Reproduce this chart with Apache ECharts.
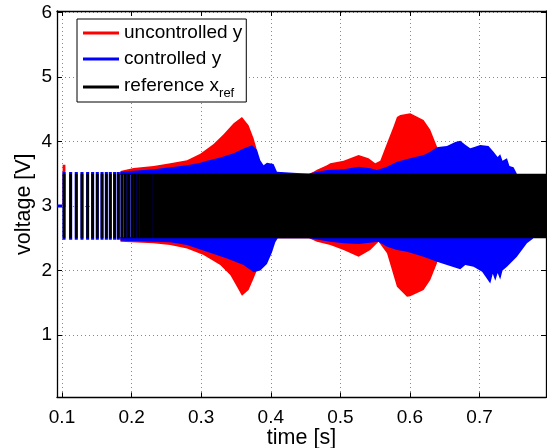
<!DOCTYPE html>
<html><head><meta charset="utf-8">
<script src="https://cdn.jsdelivr.net/npm/echarts@6/dist/echarts.min.js"></script>
<style>html,body{margin:0;padding:0;background:#fff}#c{width:547px;height:448px}</style>
</head><body><div id="c"></div>
<script>
// ---- axis ticks ----
const xTicks = [0.1, 0.2, 0.3, 0.4, 0.5, 0.6, 0.7];
const yTicks = [1, 2, 3, 4, 5, 6];
const X_MIN = 0.0928, X_MAX = 0.7955, Y_MIN = 0.035, Y_MAX = 6.02;

// ---- legend names ----
const seriesNames = ['uncontrolled y', 'controlled y', 'reference x_ref'];

// ---- signal before the reference starts ----
const preT = [0.0928, 0.1];
const preV = [3, 3];
const redSpikeT = [0.1029];
const redSpikeLo = 3.0, redSpikeHi = 3.64;

// ---- reference chirp: visible individual cycles (times of bars) ----
const chirpT = [0.1029, 0.1124, 0.1205, 0.1287, 0.1368, 0.1440, 0.1507, 0.1575, 0.1637, 0.1694,
  0.1756, 0.1809, 0.1862, 0.1910, 0.1957, 0.2006, 0.2049, 0.2092, 0.2135, 0.2172, 0.2211, 0.2249, 0.2286];
const refHi = 3.5, refLo = 2.5;
const blueTipHi = 3.525, blueTipLo = 2.475;

// ---- reference dense band ----
const refBandT = [0.226, 0.80];
const refBandHi = [3.5, 3.5];

// ---- uncontrolled y (red) envelope ----
const redUpT = [0.184, 0.2029, 0.2316, 0.2556, 0.2796, 0.2987, 0.3178, 0.3322, 0.3466, 0.3586, 0.3681, 0.3753, 0.3792, 0.385,
  0.455, 0.4615, 0.4664, 0.4807, 0.4855, 0.5046, 0.5262, 0.5286, 0.5405, 0.5501, 0.5573, 0.5670, 0.5764, 0.5813, 0.5861,
  0.6004, 0.6196, 0.6292, 0.6388, 0.6435];
const redUpV = [3.54, 3.59, 3.62, 3.66, 3.71, 3.81, 3.96, 4.11, 4.28, 4.38, 4.25, 4.05, 3.90, 3.5,
  3.5, 3.53, 3.56, 3.63, 3.66, 3.70, 3.79, 3.79, 3.74, 3.66, 3.70, 3.97, 4.23, 4.38, 4.41,
  4.435, 4.33, 4.18, 3.92, 3.5];
const redLoT = [0.184, 0.2316, 0.2556, 0.2796, 0.3034, 0.3274, 0.3418, 0.3514, 0.3586, 0.3681, 0.3753, 0.3792, 0.3849,
  0.455, 0.4664, 0.4855, 0.5046, 0.5262, 0.5286, 0.5430, 0.5549, 0.5573, 0.5670, 0.5813, 0.5957, 0.6004, 0.6196, 0.6292, 0.6388, 0.6435];
const redLoV = [2.446, 2.421, 2.394, 2.343, 2.240, 2.085, 1.93, 1.748, 1.61, 1.697, 1.878, 1.98, 2.5,
  2.5, 2.446, 2.394, 2.317, 2.213, 2.213, 2.317, 2.446, 2.44, 2.266, 1.748, 1.593, 1.60, 1.697, 1.852, 2.111, 2.5];

// ---- controlled y (blue) envelope ----
const blueUpT = [0.184, 0.2316, 0.2796, 0.2987, 0.3083, 0.3274, 0.3466, 0.3609, 0.3730, 0.3753, 0.3802, 0.3849, 0.3897, 0.3945,
  0.3968, 0.4040, 0.4089, 0.4108, 0.455, 0.4615, 0.4807, 0.5046, 0.5262, 0.5430, 0.5526, 0.5670, 0.5813, 0.6004, 0.6196,
  0.6292, 0.6388, 0.6435, 0.6532, 0.6651, 0.6723, 0.6795, 0.6866, 0.6914, 0.7010, 0.7129, 0.7201, 0.7226, 0.7260, 0.7297,
  0.7330, 0.7394, 0.7430, 0.7489, 0.7537];
const blueUpV = [3.53, 3.57, 3.63, 3.67, 3.70, 3.75, 3.815, 3.89, 3.94, 3.95, 3.87, 3.71, 3.63, 3.67,
  3.68, 3.65, 3.53, 3.5, 3.5, 3.52, 3.557, 3.568, 3.608, 3.583, 3.557, 3.608, 3.685, 3.738, 3.789,
  3.84, 3.908, 3.918, 3.93, 3.99, 4.01, 3.95, 3.893, 3.91, 3.944, 3.928, 3.84, 3.86, 3.76, 3.80,
  3.70, 3.74, 3.62, 3.60, 3.5];
const blueLoT = [0.184, 0.2556, 0.2796, 0.3083, 0.3371, 0.3609, 0.3753, 0.3849, 0.3945, 0.4017, 0.4065, 0.4100,
  0.455, 0.4855, 0.5046, 0.5262, 0.5549, 0.5670, 0.5813, 0.5957, 0.6196, 0.6388, 0.6532, 0.6723, 0.6795, 0.6914,
  0.7037, 0.7154, 0.7190, 0.7226, 0.7260, 0.7297, 0.7330, 0.7394, 0.7537, 0.7681, 0.7776];
const blueLoV = [2.46, 2.437, 2.394, 2.29, 2.188, 2.085, 1.975, 2.0, 2.10, 2.28, 2.44, 2.5,
  2.5, 2.446, 2.421, 2.41, 2.446, 2.368, 2.317, 2.29, 2.213, 2.136, 2.085, 2.02, 2.085, 2.058,
  1.981, 1.801, 1.95, 1.84, 1.96, 1.86, 2.0, 2.058, 2.213, 2.421, 2.5];

// ---- helpers ----
const FONT = '"Liberation Sans", Arial, Helvetica, sans-serif';
const RED = '#ff0000', BLUE = '#0000ff', BLACK = '#000000';
function pairs(ts, vs) { return ts.map((t, i) => [t, vs[i]]); }
function bars(ts, hi, lo) { const out = []; ts.forEach(t => { out.push([t, hi], [t, lo], [t, '-']); }); return out; }
function area(name, data, color, origin) {
  return { type: 'line', name: name, data: data, symbol: 'none', silent: true, animation: false,
    lineStyle: { width: 0, color: color }, itemStyle: { color: color },
    areaStyle: { color: color, opacity: 1, origin: origin } };
}
function segs(data, color, width) {
  return { type: 'line', data: data, symbol: 'none', silent: true, animation: false, connectNulls: false,
    lineStyle: { width: width, color: color, cap: 'butt' }, itemStyle: { color: color } };
}

const gridStyle = { type: [1, 3], color: '#8a8a8a', width: 1 };
const axLine = { show: true, onZero: false, lineStyle: { color: '#000', width: 1.3 } };

const chart = echarts.init(document.getElementById('c'), null, { renderer: 'canvas' });
chart.setOption({
  backgroundColor: '#fff',
  animation: false,
  grid: { left: 57, right: 1, top: 11, bottom: 50.6, containLabel: false, outerBoundsMode: 'none' },
  xAxis: [
    { type: 'value', min: X_MIN, max: X_MAX, position: 'bottom',
      name: 'time [s]', nameLocation: 'middle', nameGap: 30, nameMoveOverlap: false,
      nameTextStyle: { fontFamily: FONT, fontSize: 21.5, color: '#000' },
      axisLine: axLine,
      axisTick: { show: true, inside: true, length: 5, customValues: xTicks, lineStyle: { color: '#000' } },
      axisLabel: { customValues: xTicks, margin: 11, fontFamily: FONT, fontSize: 19, color: '#000' },
      splitLine: { show: true, lineStyle: gridStyle } },
    { type: 'value', min: X_MIN, max: X_MAX, position: 'top',
      axisLine: axLine,
      axisTick: { show: true, inside: true, length: 5, customValues: xTicks, lineStyle: { color: '#000' } },
      axisLabel: { show: false }, splitLine: { show: false } }
  ],
  yAxis: [
    { type: 'value', min: Y_MIN, max: Y_MAX, position: 'left',
      name: 'voltage [V]', nameLocation: 'middle', nameGap: 22, nameMoveOverlap: false,
      nameTextStyle: { fontFamily: FONT, fontSize: 21.5, color: '#000' },
      axisLine: axLine,
      axisTick: { show: true, inside: true, length: 5, customValues: yTicks, lineStyle: { color: '#000' } },
      axisLabel: { customValues: yTicks, margin: 5, fontFamily: FONT, fontSize: 19, color: '#000' },
      splitLine: { show: true, lineStyle: gridStyle } },
    { type: 'value', min: Y_MIN, max: Y_MAX, position: 'right',
      axisLine: axLine,
      axisTick: { show: true, inside: true, length: 5, customValues: yTicks, lineStyle: { color: '#000' } },
      axisLabel: { show: false }, splitLine: { show: false } }
  ],
  legend: {
    data: seriesNames, orient: 'vertical', left: 77, top: 19,
    padding: [3, 4, 2, 6], itemGap: 4, itemWidth: 36, itemHeight: 3, icon: 'rect',
    borderColor: '#000', borderWidth: 1, backgroundColor: '#fff', selectedMode: false,
    textStyle: { fontFamily: FONT, fontSize: 19, lineHeight: 22, color: '#000',
      rich: {
        m: { fontFamily: FONT, fontSize: 19, lineHeight: 22, color: '#000', verticalAlign: 'top' },
        s: { fontFamily: FONT, fontSize: 13, lineHeight: 17, color: '#000', padding: [13, 0, 0, 0] }
      } },
    formatter: function (name) { return name === 'reference x_ref' ? '{m|reference x}{s|ref}' : name; }
  },
  series: [
    area('', pairs(redUpT, redUpV), RED, 3.48),
    area('', pairs(redLoT, redLoV), RED, 2.52),
    segs(pairs(redSpikeT.concat(redSpikeT), [redSpikeLo, redSpikeHi]), RED, 2.8),
    area('', pairs(blueUpT, blueUpV), BLUE, 3.48),
    area('', pairs(blueLoT, blueLoV), BLUE, 2.52),
    segs(pairs(preT, preV), BLUE, 3),
    segs(bars(chirpT, blueTipHi, blueTipLo), BLUE, 3.1),
    segs(bars(chirpT, refHi, refLo), BLACK, 2.7),
    area('', pairs(refBandT, refBandHi), BLACK, refLo),
    { type: 'line', name: seriesNames[0], data: [], color: RED, lineStyle: { width: 3 } },
    { type: 'line', name: seriesNames[1], data: [], color: BLUE, lineStyle: { width: 3 } },
    { type: 'line', name: seriesNames[2], data: [], color: BLACK, lineStyle: { width: 3 } }
  ]
});
</script>
</body></html>
